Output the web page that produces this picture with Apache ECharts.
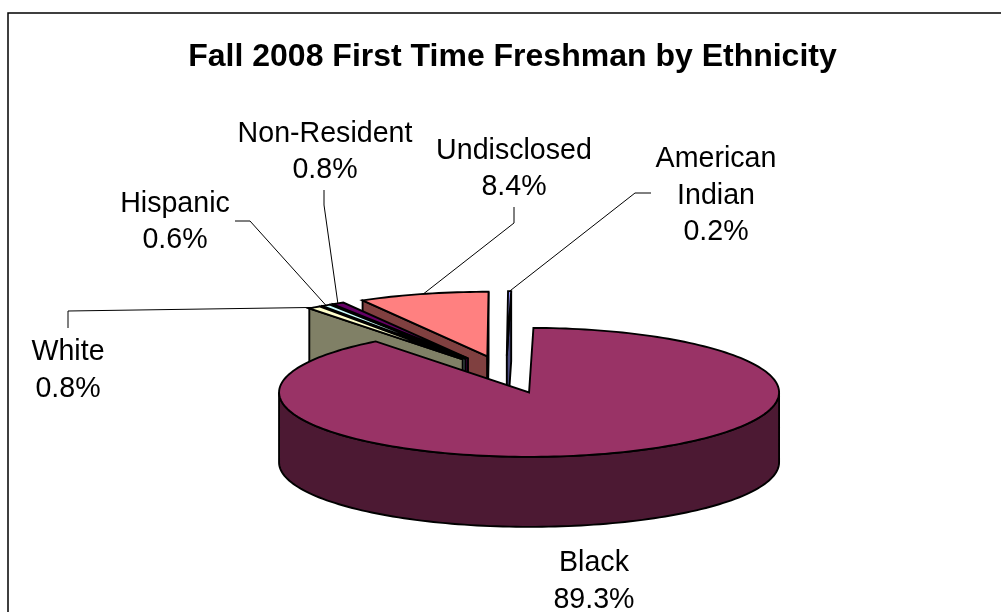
<!DOCTYPE html>
<html><head><meta charset="utf-8">
<style>html,body{margin:0;padding:0;background:#fff}#c{width:1001px;height:612px}</style>
<script src="https://cdn.jsdelivr.net/npm/echarts@6/dist/echarts.min.js"></script>
</head><body><div id="c"></div>
<script>
// Data, clockwise from the slice that starts at twelve o'clock
var categories = ['Black', 'White', 'Hispanic', 'Non-Resident', 'Undisclosed', 'American Indian'];
var percents = [89.3, 0.8, 0.6, 0.8, 8.4, 0.2];
var topColors = ['#993366', '#FFFFCC', '#CCFFFF', '#660066', '#FF8080', '#9999FF'];
var sideColors = ['#4C1933', '#808066', '#668080', '#330033', '#804040', '#4C4C80'];
var labelLines = [['Black', '89.3%'], ['White', '0.8%'], ['Hispanic', '0.6%'], ['Non-Resident', '0.8%'], ['Undisclosed', '8.4%'], ['American', 'Indian', '0.2%']];

// Layout of the projected pie
var CX = 506, CY = 374.5, R = 250, TILT = 0.258, DEPTH = 70, EXPLODE = 73, START = 1.0;
var labelAt = [[594, 581.5], [68, 370.5], [175, 222], [325, 152], [514, 169], [716, 196]];
var leaderVia = [null, [[68, 328], [68, 311]], [[235, 221], [250, 221]], [[324, 190], [324, 205]], [[514, 207], [514, 223]], [[651, 193], [635, 193]]];

var total = percents.reduce(function (a, b) { return a + b; }, 0);
var acc = 0;
var slices = percents.map(function (v, i) {
  var a0 = echarts.number.linearMap(acc, [0, total], [START, START + 360]);
  acc += v;
  var a1 = echarts.number.linearMap(acc, [0, total], [START, START + 360]);
  return { i: i, a0: a0, a1: a1, mid: (a0 + a1) / 2 };
});
function rad(d) { return d * Math.PI / 180; }
function pt(s, a, rf, depth) {
  return [
    CX + EXPLODE * Math.sin(rad(s.mid)) + rf * R * Math.sin(rad(a)),
    CY - (EXPLODE * Math.cos(rad(s.mid)) + rf * R * Math.cos(rad(a))) * TILT + depth
  ];
}
function arc(s, a0, a1, depth) {
  var n = Math.max(2, Math.ceil(Math.abs(a1 - a0) / 1.5)), out = [];
  for (var k = 0; k <= n; k++) out.push(pt(s, a0 + (a1 - a0) * k / n, 1, depth));
  return out;
}
// Back slices are painted first
var paintOrder = slices.slice().sort(function (p, q) { return Math.cos(rad(q.mid)) - Math.cos(rad(p.mid)); });

var LW = 1.9;
function poly(points, fill) {
  return { type: 'polygon', shape: { points: points },
    style: { fill: fill, stroke: '#000', lineWidth: LW, lineJoin: 'miter' } };
}
function renderSlice(params, api) {
  var s = slices[api.value(0)], side = sideColors[s.i], kids = [];
  // cut faces that look toward the viewer
  if (Math.cos(rad(s.a0 - 90)) < 0) {
    kids.push(poly([pt(s, 0, 0, 0), pt(s, s.a0, 1, 0), pt(s, s.a0, 1, DEPTH), pt(s, 0, 0, DEPTH)], side));
  }
  if (Math.cos(rad(s.a1 + 90)) < 0) {
    kids.push(poly([pt(s, 0, 0, 0), pt(s, s.a1, 1, 0), pt(s, s.a1, 1, DEPTH), pt(s, 0, 0, DEPTH)], side));
  }
  // rim on the near half
  var w0 = Math.max(s.a0, 90), w1 = Math.min(s.a1, 270);
  if (w1 > w0) {
    kids.push(poly(arc(s, w0, w1, 0).concat(arc(s, w1, w0, DEPTH)), side));
  }
  // top face
  kids.push(poly([pt(s, 0, 0, 0)].concat(arc(s, s.a0, s.a1, 0)), topColors[s.i]));
  return { type: 'group', children: kids };
}
function renderLabel(params, api) {
  var i = api.value(0), s = slices[i], kids = [];
  if (leaderVia[i]) {
    kids.push({ type: 'polyline', shape: { points: leaderVia[i].concat([pt(s, s.mid, 1, 0)]) },
      style: { fill: null, stroke: '#000', lineWidth: 1 } });
  }
  kids.push({ type: 'text', x: labelAt[i][0], y: labelAt[i][1],
    style: { text: labelLines[i].join('\n'), align: 'center', verticalAlign: 'middle',
      fontFamily: 'Liberation Sans', fontSize: 28.6, lineHeight: 36.5, fill: '#000' } });
  return { type: 'group', children: kids };
}

var chart = echarts.init(document.getElementById('c'), null, { renderer: 'canvas' });
chart.setOption({
  animation: false,
  backgroundColor: '#fff',
  title: { text: 'Fall 2008 First Time Freshman by Ethnicity', left: 507.5, top: 36, textAlign: 'center',
    textStyle: { fontFamily: 'Liberation Sans', fontWeight: 'bold', fontSize: 32, color: '#000' } },
  graphic: [{ type: 'rect', shape: { x: 8, y: 13, width: 1020, height: 720 }, silent: true, z: -1,
    style: { fill: null, stroke: '#000', lineWidth: 1.5 } }],
  series: [
    { type: 'custom', name: 'slices', coordinateSystem: 'none', renderItem: renderSlice, silent: true,
      data: paintOrder.map(function (s) { return [s.i, percents[s.i]]; }) },
    { type: 'custom', name: 'labels', coordinateSystem: 'none', renderItem: renderLabel, silent: true,
      data: categories.map(function (c, i) { return [i, percents[i]]; }) }
  ]
});
</script></body></html>
